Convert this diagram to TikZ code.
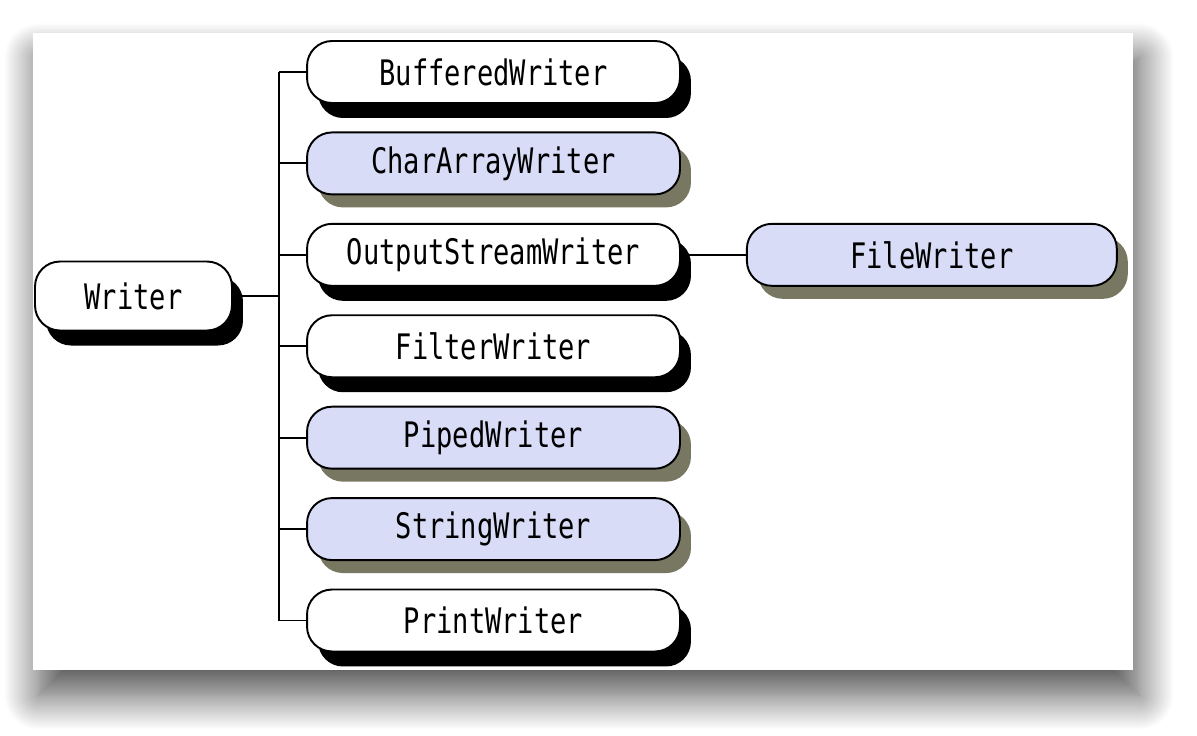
\documentclass[tikz,border=0pt]{standalone}
\usepackage{fontspec}
\newfontfamily\pixfont[FakeStretch=0.77]{DejaVu Sans Mono}
\usetikzlibrary{positioning}
\usetikzlibrary{shadows,shadows.blur}
\definecolor{lavender}{RGB}{216,220,247}
\definecolor{olivegray}{RGB}{120,119,98}
\tikzset{
        classbox/.style={rounded corners=0.5cm, draw=black, line width=1.1pt, align=center, inner sep=0pt,
                         minimum height=1.24cm, font=\pixfont\fontsize{20}{24}\selectfont},
        % Plain classes
        class_plain/.style={classbox, fill=white, general shadow={fill=black, shadow xshift=0.22cm, shadow yshift=-0.3cm}},
        % Shaded classes
        class_shaded/.style={classbox, fill=lavender, general shadow={fill=olivegray, shadow xshift=0.22cm, shadow yshift=-0.26cm}},
        % Connectors
        link/.style={draw=black, line width=1.1pt}
}
\begin{document}
\begin{tikzpicture}[x=0.02cm, y=-0.02cm]
    \useasboundingbox (0,0) rectangle (1197,735);
    % panel
    \fill[white, blur shadow={shadow xshift=0.12cm, shadow yshift=-0.5cm, shadow blur radius=0.7cm, shadow blur steps=20, shadow opacity=70}]
        (33,33) rectangle (1133,670);

    \node[class_plain, minimum width=3.94cm, minimum height=1.38cm] (writer) at (133.5,296) {Writer};

    \node[class_plain, minimum width=7.46cm] (buffered) at (493.5,72) {BufferedWriter};
    \node[class_shaded, minimum width=7.46cm, below=0.55cm of buffered] (chararray) {CharArrayWriter};
    \node[class_plain, minimum width=7.46cm, below=0.55cm of chararray] (outputstream) {OutputStreamWriter};
    \node[class_plain, minimum width=7.46cm, below=0.55cm of outputstream] (filter) {FilterWriter};
    \node[class_shaded, minimum width=7.46cm, below=0.55cm of filter] (piped) {PipedWriter};
    \node[class_shaded, minimum width=7.46cm, below=0.55cm of piped] (string) {StringWriter};
    \node[class_plain, minimum width=7.46cm, below=0.55cm of string] (print) {PrintWriter};

    \node[class_shaded, minimum width=7.4cm, right=1.3cm of outputstream] (file) {FileWriter};

    \coordinate (bus) at (279,296);
    \draw[link] (writer.east) -- (bus);
    \draw[link] (bus |- buffered.west) -- (bus |- print.west);
    \foreach \c in {buffered, chararray, outputstream, filter, piped, string, print}
        \draw[link] (bus |- \c.west) -- (\c.west);
    \draw[link] (outputstream.east) -- (file.west);
\end{tikzpicture}
\end{document}
